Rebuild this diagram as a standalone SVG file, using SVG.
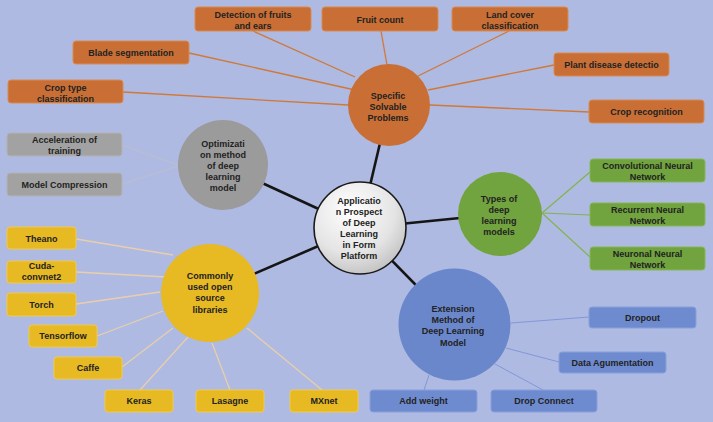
<svg xmlns="http://www.w3.org/2000/svg" width="713" height="422" viewBox="0 0 713 422">
<defs>
<radialGradient id="gc" cx="0.4" cy="0.3" r="0.8">
<stop offset="0" stop-color="#ffffff"/>
<stop offset="0.6" stop-color="#e4e4e4"/>
<stop offset="1" stop-color="#b9b9b9"/>
</radialGradient>
<style>
text{font-family:"Liberation Sans",Arial,sans-serif;font-weight:bold;font-size:9px;fill:#222;text-anchor:middle}
.or rect{fill:#c96f35;stroke:#d98a52;stroke-width:1}
.gr rect{fill:#a2a2a2;stroke:#b4b4b4;stroke-width:1}
.gn rect{fill:#71a33e;stroke:#86b656;stroke-width:1}
.yl rect{fill:#e7b923;stroke:#f1c94e;stroke-width:1}
.bl rect{fill:#6f8bd0;stroke:#889fdb;stroke-width:1}
.lo{stroke:#d07838;stroke-width:1.3}
.lg{stroke:#bcbfcd;stroke-width:1}
.ln{stroke:#84b24e;stroke-width:1.2}
.ly{stroke:#e8cfac;stroke-width:1.3}
.lb{stroke:#8098d8;stroke-width:1}
.lk{stroke:#151515;stroke-width:2.6}
</style>
</defs>
<rect x="0" y="0" width="713" height="422" fill="#aebae1"/>
<g id="connectors" fill="none">
<line class="lk" x1="360" y1="228" x2="389" y2="105"/>
<line class="lk" x1="360" y1="228" x2="500" y2="214"/>
<line class="lk" x1="360" y1="228" x2="223" y2="165"/>
<line class="lk" x1="360" y1="228" x2="210" y2="293"/>
<line class="lk" x1="360" y1="228" x2="454" y2="324"/>
<line class="lo" x1="253" y1="31" x2="355" y2="77"/>
<line class="lo" x1="381" y1="31" x2="387" y2="65"/>
<line class="lo" x1="509" y1="31" x2="418" y2="76"/>
<line class="lo" x1="554" y1="65" x2="428" y2="90"/>
<line class="lo" x1="589" y1="112" x2="430" y2="105"/>
<line class="lo" x1="189" y1="53" x2="355" y2="90"/>
<line class="lo" x1="123" y1="92" x2="348" y2="105"/>
<line class="lg" x1="122" y1="145" x2="178" y2="165"/>
<line class="lg" x1="122" y1="184" x2="178" y2="166"/>
<line class="ln" x1="542" y1="213" x2="590" y2="172"/>
<line class="ln" x1="542" y1="213" x2="590" y2="215"/>
<line class="ln" x1="542" y1="213" x2="590" y2="257"/>
<line class="ly" x1="76" y1="239" x2="173" y2="255"/>
<line class="ly" x1="76" y1="272" x2="166" y2="277"/>
<line class="ly" x1="76" y1="304" x2="160" y2="292"/>
<line class="ly" x1="97" y1="336" x2="163" y2="311"/>
<line class="ly" x1="122" y1="367" x2="173" y2="328"/>
<line class="ly" x1="140" y1="390" x2="188" y2="337"/>
<line class="ly" x1="230" y1="390" x2="212" y2="343"/>
<line class="ly" x1="322" y1="390" x2="247" y2="328"/>
<line class="lb" x1="511" y1="323" x2="589" y2="317"/>
<line class="lb" x1="506" y1="348" x2="559" y2="362"/>
<line class="lb" x1="495" y1="364" x2="543" y2="390"/>
<line class="lb" x1="429" y1="375" x2="424" y2="390"/>
</g>
<g id="center">
<circle cx="360" cy="228" r="46" fill="url(#gc)" stroke="#1a1a1a" stroke-width="1.6"/>
<text><tspan x="359" y="203.5">Applicatio</tspan><tspan x="359" y="214.5">n Prospect</tspan><tspan x="359" y="225.5">of Deep</tspan><tspan x="359" y="236.5">Learning</tspan><tspan x="359" y="247.5">in Form</tspan><tspan x="359" y="258.5">Platform</tspan></text>
</g>
<g id="problems">
<circle cx="389" cy="105" r="41" fill="#c96f35"/>
<text><tspan x="388" y="98.5">Specific</tspan><tspan x="388" y="110">Solvable</tspan><tspan x="388" y="121">Problems</tspan></text>
</g>
<g id="optimization">
<circle cx="223" cy="165" r="45" fill="#9b9b9b"/>
<text><tspan x="223" y="146.5">Optimizati</tspan><tspan x="223" y="157.5">on method</tspan><tspan x="223" y="168.5">of deep</tspan><tspan x="223" y="180">learning</tspan><tspan x="223" y="191">model</tspan></text>
</g>
<g id="types">
<circle cx="500" cy="214" r="42" fill="#71a33e"/>
<text><tspan x="499" y="201.5">Types of</tspan><tspan x="499" y="212.5">deep</tspan><tspan x="499" y="223.5">learning</tspan><tspan x="499" y="235">models</tspan></text>
</g>
<g id="libraries">
<circle cx="210" cy="293" r="49" fill="#e7b923"/>
<text><tspan x="210" y="278.5">Commonly</tspan><tspan x="210" y="290">used open</tspan><tspan x="210" y="301.3">source</tspan><tspan x="210" y="312.5">libraries</tspan></text>
</g>
<g id="extension">
<circle cx="454.5" cy="324.5" r="56" fill="#6a87cc"/>
<text><tspan x="453" y="311.5">Extension</tspan><tspan x="453" y="322.5">Method of</tspan><tspan x="453" y="334">Deep Learning</tspan><tspan x="453" y="345.5">Model</tspan></text>
</g>
<g id="detection" class="or"><rect x="195" y="7" width="116" height="24" rx="3"/><text><tspan x="253" y="17.5">Detection of fruits</tspan><tspan x="253" y="28.5">and ears</tspan></text></g>
<g id="fruit-count" class="or"><rect x="322" y="7" width="116" height="24" rx="3"/><text x="380" y="22.5">Fruit count</text></g>
<g id="land-cover" class="or"><rect x="452" y="7" width="116" height="24" rx="3"/><text><tspan x="510" y="17.5">Land cover</tspan><tspan x="510" y="28.5">classification</tspan></text></g>
<g id="blade" class="or"><rect x="73" y="41" width="116" height="23" rx="3"/><text x="131" y="56">Blade segmentation</text></g>
<g id="crop-type" class="or"><rect x="8" y="80" width="115" height="23" rx="3"/><text><tspan x="65.5" y="90.5">Crop type</tspan><tspan x="65.5" y="101.5">classification</tspan></text></g>
<g id="plant-disease" class="or"><rect x="554" y="53" width="115" height="23" rx="3"/><text x="611.5" y="68">Plant disease detectio</text></g>
<g id="crop-recognition" class="or"><rect x="589" y="100" width="115" height="23" rx="3"/><text x="646.5" y="115">Crop recognition</text></g>
<g id="acceleration" class="gr"><rect x="7" y="133" width="115" height="23" rx="3"/><text><tspan x="64.5" y="142.5">Acceleration of</tspan><tspan x="64.5" y="153.5">training</tspan></text></g>
<g id="compression" class="gr"><rect x="7" y="173" width="115" height="23" rx="3"/><text x="64.5" y="187.5">Model Compression</text></g>
<g id="cnn" class="gn"><rect x="590" y="159" width="115" height="23" rx="3"/><text><tspan x="647.5" y="169">Convolutional Neural</tspan><tspan x="647.5" y="180">Network</tspan></text></g>
<g id="rnn" class="gn"><rect x="590" y="203" width="115" height="23" rx="3"/><text><tspan x="647.5" y="212.5">Recurrent Neural</tspan><tspan x="647.5" y="223.5">Network</tspan></text></g>
<g id="nnn" class="gn"><rect x="590" y="247" width="115" height="23" rx="3"/><text><tspan x="647.5" y="256.5">Neuronal Neural</tspan><tspan x="647.5" y="267.5">Network</tspan></text></g>
<g id="theano" class="yl"><rect x="7" y="227" width="69" height="22" rx="3"/><text x="41.5" y="241.5">Theano</text></g>
<g id="cuda" class="yl"><rect x="7" y="261" width="69" height="22" rx="3"/><text><tspan x="41.5" y="269">Cuda-</tspan><tspan x="41.5" y="280">convnet2</tspan></text></g>
<g id="torch" class="yl"><rect x="7" y="293" width="69" height="23" rx="3"/><text x="41.5" y="307.5">Torch</text></g>
<g id="tensorflow" class="yl"><rect x="29" y="325" width="68" height="22" rx="3"/><text x="63" y="339.3">Tensorflow</text></g>
<g id="caffe" class="yl"><rect x="54" y="357" width="68" height="22" rx="3"/><text x="88" y="371">Caffe</text></g>
<g id="keras" class="yl"><rect x="105" y="390" width="68" height="22" rx="3"/><text x="139" y="404.3">Keras</text></g>
<g id="lasagne" class="yl"><rect x="196" y="390" width="68" height="22" rx="3"/><text x="230" y="404.3">Lasagne</text></g>
<g id="mxnet" class="yl"><rect x="290" y="390" width="68" height="22" rx="3"/><text x="324" y="404.3">MXnet</text></g>
<g id="dropout" class="bl"><rect x="589" y="307" width="107" height="21" rx="3"/><text x="642.5" y="320.5">Dropout</text></g>
<g id="data-aug" class="bl"><rect x="559" y="352" width="107" height="21" rx="3"/><text x="612.5" y="366">Data Agumentation</text></g>
<g id="add-weight" class="bl"><rect x="370" y="390" width="107" height="22" rx="3"/><text x="423.5" y="404.3">Add weight</text></g>
<g id="drop-connect" class="bl"><rect x="491" y="390" width="106" height="22" rx="3"/><text x="544" y="404.3">Drop Connect</text></g>
</svg>
